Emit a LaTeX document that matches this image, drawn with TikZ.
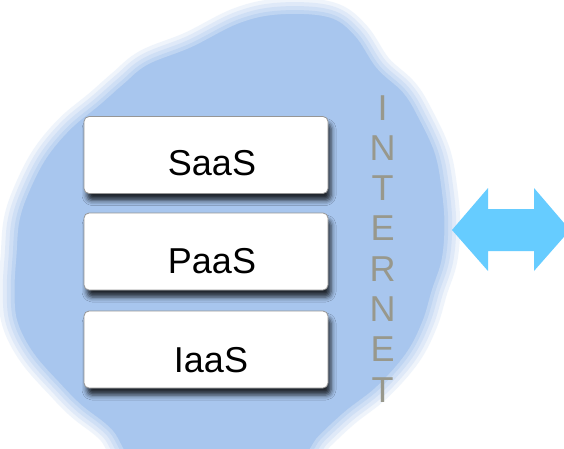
\documentclass[tikz,border=0pt]{standalone}
\usepackage{fontspec}
\setmainfont{Liberation Sans}
\usetikzlibrary{shadows.blur}
\definecolor{cloudc}{RGB}{168,198,238}
\definecolor{arrowc}{RGB}{102,204,255}
\definecolor{netc}{RGB}{152,152,140}
\definecolor{boxline}{RGB}{150,150,150}
\begin{document}
\begin{tikzpicture}[x=1pt,y=-1pt,
  layerbox/.style={draw=boxline, line width=0.8pt, fill=white, rounded corners=5pt,
    minimum width=244pt, minimum height=77pt, inner sep=0pt,
    blur shadow={shadow xshift=3pt, shadow yshift=-7pt, shadow blur radius=5pt,
      shadow opacity=80}},
  lbl/.style={font=\fontsize{36}{40}\selectfont, text=black, anchor=base, inner sep=0pt},
  netletter/.style={font=\fontsize{36}{40}\selectfont, text=netc, anchor=base, inner sep=0pt},
  bigarrow/.style={fill=arrowc, draw=none}]
\useasboundingbox (0,0) rectangle (564,448);
\clip (0,0) rectangle (564,448);
\fill[white] (0,0) rectangle (564,448);
% cloud
\def\cloudpath{plot[smooth cycle, tension=0.6] coordinates {
  (240,15) (282,6) (332,9) (359,28) (382,62) (409,87) (425,113) (442,150)
  (449,187) (452,224) (449,260) (439,291) (429,324) (412,357) (382,391)
  (349,417) (322,442) (292,472) (200,480) (135,472) (108,436) (77,411)
  (57,391) (27,357) (10,324) (7,291) (9,255) (12,220) (22,190) (40,155)
  (65,125) (95,100) (120,78) (145,58) (190,40)}}
\begin{scope}[scale around={0.965:(230,250)}]
\foreach \w/\o in {32/0.18,24/0.22,16/0.28,8/0.4}{
  \path[fill=cloudc, draw=cloudc, line width=\w pt, line join=round, opacity=\o] \cloudpath;
}
\fill[cloudc] \cloudpath;
\end{scope}
% layers
\node[layerbox] (saas) at (206,155) {};
\node[layerbox] (paas) at (206,251.5) {};
\node[layerbox] (iaas) at (206,349.5) {};
\node[lbl] (saast) at (212,175) {SaaS};
\node[lbl] (paast) at (212,273) {PaaS};
\node[lbl] (iaast) at (211,372) {IaaS};
% INTERNET
\foreach \c [count=\i from 0] in {I,N,T,E,R,N,E,T}{
  \node[netletter] (net\i) at (382.5,{120+40.3*\i}) {\c};
}
% double arrow
\fill[bigarrow] (452,230) -- (488,188) -- (488,209) -- (534,209) -- (534,188)
  -- (570,230) -- (534,271) -- (534,251) -- (488,251) -- (488,271) -- cycle;
\end{tikzpicture}
\end{document}
